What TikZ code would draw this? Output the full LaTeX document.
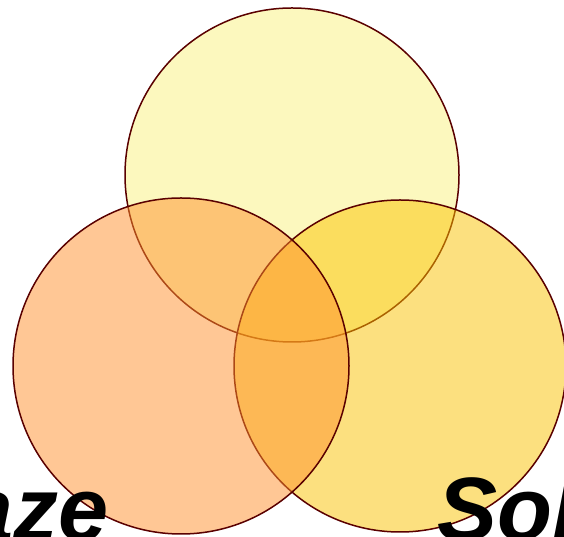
\documentclass[tikz,border=0pt]{standalone}
\usepackage{fontspec}
\setmainfont{Liberation Sans}
\definecolor{edge}{RGB}{90,0,0}
\definecolor{topfill}{RGB}{252,248,190}
\definecolor{rightfill}{RGB}{251,195,0}
\definecolor{leftfill}{RGB}{255,145,45}
\begin{document}
\begin{tikzpicture}[x=1pt,y=1pt,
  ring/.style={draw=edge,line width=1.5pt},
  word/.style={inner sep=0pt,font=\fontsize{90}{96}\selectfont\bfseries\itshape}]
\useasboundingbox (0,0) rectangle (564,537);
\clip (0,0) rectangle (564,537);
\fill[white] (0,0) rectangle (564,537);
\path[ring,fill=topfill] (292,362) circle[radius=167];
\path[ring,fill=rightfill,fill opacity=0.5] (400,171) circle[radius=166];
\path[ring,fill=leftfill,fill opacity=0.5] (181,171) circle[radius=168];
\node[word,anchor=base east] (aze) at (109,-4) {aze};
\node[word,anchor=base west] (sol) at (437,-4) {Sol};
\end{tikzpicture}
\end{document}
